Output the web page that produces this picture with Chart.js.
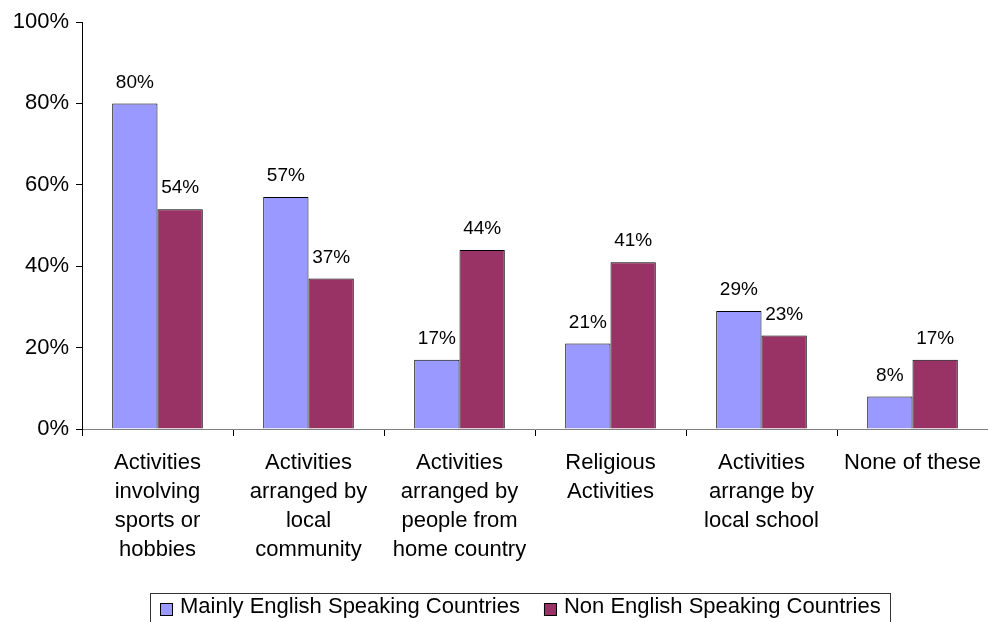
<!DOCTYPE html>
<html>
<head>
<meta charset="utf-8">
<script src="https://cdn.jsdelivr.net/npm/chart.js@4.4.1/dist/chart.umd.min.js"></script>
<style>
  html, body { margin: 0; padding: 0; background: #fff; }
</style>
</head>
<body>
<canvas id="activityChart" width="988" height="622"></canvas>
<script>
const categories = [
  ['Activities', 'involving', 'sports or', 'hobbies'],
  ['Activities', 'arranged by', 'local', 'community'],
  ['Activities', 'arranged by', 'people from', 'home country'],
  ['Religious', 'Activities'],
  ['Activities', 'arrange by', 'local school'],
  'None of these',
]
const englishSpeaking = [80, 57, 17, 21, 29, 8]
const nonEnglishSpeaking = [54, 37, 44, 41, 23, 17]
const yTicks = [0, 20, 40, 60, 80, 100]
const seriesNames = ['Mainly English Speaking Countries', 'Non English Speaking Countries']
const seriesColors = ['#9999ff', '#993366']

const FONT = "'Liberation Sans', Arial, sans-serif"

// value labels above every bar
const barValueLabels = {
  id: 'barValueLabels',
  afterDatasetsDraw(chart) {
    const { ctx } = chart
    ctx.save()
    ctx.font = '19px ' + FONT
    ctx.fillStyle = '#000'
    ctx.textAlign = 'center'
    ctx.textBaseline = 'middle'
    chart.data.datasets.forEach((ds, idx) => {
      chart.getDatasetMeta(idx).data.forEach((bar, i) => {
        ctx.fillText(ds.data[i] + '%', bar.x, bar.y - 21)
      })
    })
    ctx.restore()
  },
}

// boxed legend under the category labels
const boxedLegend = {
  id: 'boxedLegend',
  afterDraw(chart) {
    const { ctx } = chart
    ctx.save()
    ctx.font = '22px ' + FONT
    const box = { left: 150, right: 890, top: 593, bottom: 623 }
    const sw = 12
    const widths = chart.data.datasets.map((ds) => ctx.measureText(ds.label).width)
    const inner = widths.reduce((a, w) => a + sw + 8 + w, 0) + 24
    ctx.strokeStyle = '#333'
    ctx.lineWidth = 1
    ctx.strokeRect(box.left + 0.5, box.top + 0.5, box.right - box.left, box.bottom - box.top)

    let x = Math.round((box.left + box.right) / 2 - inner / 2)
    const baseline = 613
    chart.data.datasets.forEach((ds, i) => {
      ctx.fillStyle = ds.backgroundColor
      ctx.fillRect(x + 0.5, baseline - 9.5, sw, sw)
      ctx.strokeStyle = '#000'
      ctx.strokeRect(x + 0.5, baseline - 9.5, sw, sw)
      ctx.fillStyle = '#000'
      ctx.textBaseline = 'alphabetic'
      ctx.textAlign = 'left'
      ctx.fillText(ds.label, x + sw + 8, baseline)
      x += sw + 8 + widths[i] + 24
    })
    ctx.restore()
  },
}

new Chart(document.getElementById('activityChart'), {
  type: 'bar',
  data: {
    labels: categories,
    datasets: [
      {
        label: seriesNames[0],
        data: englishSpeaking,
        backgroundColor: seriesColors[0],
        borderColor: '#000',
        borderWidth: 1,
      },
      {
        label: seriesNames[1],
        data: nonEnglishSpeaking,
        backgroundColor: seriesColors[1],
        borderColor: '#000',
        borderWidth: 1,
      },
    ],
  },
  options: {
    responsive: false,
    animation: false,
    layout: { padding: { top: 22, left: 0, right: 0, bottom: 0 } },
    categoryPercentage: 0.6,
    barPercentage: 1,
    plugins: {
      legend: { display: false },
      tooltip: { enabled: false },
    },
    scales: {
      x: {
        grid: {
          offset: true,
          drawOnChartArea: false,
          drawTicks: true,
          tickLength: 7,
          color: '#000',
        },
        border: { color: '#808080', width: 1 },
        ticks: {
          color: '#000',
          font: { family: FONT, size: 22, lineHeight: 1.32 },
          padding: 12,
          maxRotation: 0,
          autoSkip: false,
        },
        afterFit: (scale) => {
          // axis runs to the right edge; labels fit inside their categories
          scale.height = 193
          scale.paddingLeft = 0
          scale.paddingRight = 0
        },
      },
      y: {
        min: 0,
        max: 100,
        afterBuildTicks: (scale) => { scale.ticks = yTicks.map((v) => ({ value: v })) },
        grid: {
          drawOnChartArea: false,
          drawTicks: true,
          tickLength: 6,
          color: '#000',
        },
        border: { color: '#000', width: 1 },
        ticks: {
          color: '#000',
          font: { family: FONT, size: 22 },
          padding: 7,
          callback: (v) => v + '%',
        },
        afterFit: (scale) => { scale.width = 82 },
      },
    },
  },
  plugins: [barValueLabels, boxedLegend],
})
</script>
</body>
</html>
